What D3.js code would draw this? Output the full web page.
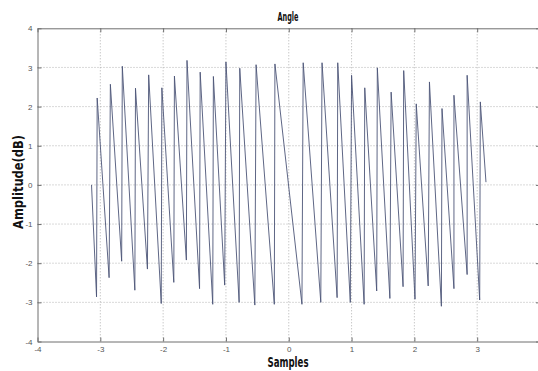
<!DOCTYPE html>
<html><head><meta charset="utf-8">
<script src="https://cdn.jsdelivr.net/npm/d3@7"></script>
<style>body{margin:0;background:#fff}svg{display:block}</style>
</head><body>
<svg id="c" width="538" height="371"></svg>
<script>
// Tick values
const xTicks = [-4,-3,-2,-1,0,1,2,3,4];
const xTickLabels = ["-4","-3","-2","-1","0","1","2","3",""];
const yTicks = [-4,-3,-2,-1,0,1,2,3,4];
const yTickLabels = ["-4","-3","-2","-1","0","1","2","3","4"];
// Series: start point, then alternating trough/peak, then end point
const startPoint = [-3.14, 0.0];
const troughX = [-3.06,-2.86,-2.66,-2.45,-2.25,-2.03,-1.83,-1.63,-1.42,-1.21,-1.02,-0.79,-0.54,-0.23,0.21,0.51,0.77,0.98,1.20,1.40,1.61,1.82,2.01,2.22,2.43,2.63,2.84,3.04];
const troughY = [-2.86,-2.37,-1.95,-2.69,-2.15,-3.03,-2.49,-1.92,-2.65,-3.05,-2.56,-3.00,-3.07,-3.05,-3.05,-3.00,-2.88,-3.00,-3.05,-2.71,-2.90,-2.60,-2.92,-2.58,-3.10,-2.65,-2.29,-2.94];
const peakX = [-3.05,-2.84,-2.65,-2.44,-2.23,-2.02,-1.82,-1.62,-1.41,-1.20,-1.00,-0.78,-0.52,-0.22,0.23,0.53,0.78,1.00,1.21,1.41,1.63,1.83,2.03,2.24,2.44,2.63,2.84,3.05];
const peakY = [2.22,2.57,3.03,2.47,2.81,2.48,2.78,3.18,2.88,2.77,3.14,2.98,3.07,3.09,3.12,3.12,3.12,2.80,2.48,2.99,2.37,2.92,2.07,2.63,1.95,2.29,2.80,2.12];
const endPoint = [3.14, 0.07];

const pts = [startPoint];
troughX.forEach((x,i)=>{ pts.push([x, troughY[i]]); pts.push([peakX[i], peakY[i]]); });
pts.push(endPoint);

const svg = d3.select("#c");
const L = 37.5, R = 540, T = 28.3, B = 341.5;
const x = d3.scaleLinear().domain([-4,4]).range([L,R]);
const y = d3.scaleLinear().domain([-4,4]).range([B,T]);

// grid
const grid = svg.append("g");
grid.selectAll(".gx").data(xTicks.slice(1,-1)).join("line")
  .attr("x1",d=>x(d)).attr("x2",d=>x(d)).attr("y1",T).attr("y2",B)
  .attr("stroke","#a0a0a0").attr("stroke-width",0.8).attr("stroke-dasharray","1,2");
grid.selectAll(".gy").data(yTicks.slice(1,-1)).join("line")
  .attr("y1",d=>y(d)).attr("y2",d=>y(d)).attr("x1",L).attr("x2",R)
  .attr("stroke","#a0a0a0").attr("stroke-width",0.8).attr("stroke-dasharray","1,2");

// axes (inward ticks)
const axB = svg.append("g").attr("transform",`translate(0,${B})`)
  .call(d3.axisBottom(x).tickValues(xTicks).tickSizeInner(-4).tickSizeOuter(0).tickPadding(5)
    .tickFormat((d,i)=>xTickLabels[i]));
const axT = svg.append("g").attr("transform",`translate(0,${T})`)
  .call(d3.axisTop(x).tickValues(xTicks).tickSizeInner(-4).tickSizeOuter(0).tickFormat(""));
const axL = svg.append("g").attr("transform",`translate(${L},0)`)
  .call(d3.axisLeft(y).tickValues(yTicks).tickSizeInner(-4).tickSizeOuter(0).tickPadding(5)
    .tickFormat((d,i)=>yTickLabels[i]));
const axR = svg.append("g").attr("transform",`translate(${R},0)`)
  .call(d3.axisRight(y).tickValues(yTicks).tickSizeInner(-4).tickSizeOuter(0).tickFormat(""));
[axB,axT,axL,axR].forEach(a=>{
  a.select(".domain").attr("stroke","#6e6e6e").attr("stroke-width",1);
  a.selectAll(".tick line").attr("stroke","#6e6e6e");
  a.selectAll("text").attr("fill","#555").attr("font-size","8px").attr("font-family","Liberation Sans, Arial, sans-serif");
});

// line
svg.append("path").datum(pts)
  .attr("d", d3.line().x(d=>x(d[0])).y(d=>y(d[1])))
  .attr("fill","none").attr("stroke","#4c5577").attr("stroke-width",0.9);

// labels
const lf = "DejaVu Sans Condensed, DejaVu Sans, sans-serif";
svg.append("text").text("Angle").attr("x",288).attr("y",21)
  .attr("text-anchor","middle").attr("font-family",lf).attr("font-weight","bold")
  .attr("font-size","12px").attr("textLength",21).attr("lengthAdjust","spacingAndGlyphs").attr("fill","#111");
svg.append("text").text("Samples").attr("x",288).attr("y",367)
  .attr("text-anchor","middle").attr("font-family",lf).attr("font-weight","bold")
  .attr("font-size","14px").attr("textLength",41).attr("lengthAdjust","spacingAndGlyphs").attr("fill","#111");
svg.append("text").text("Amplitude(dB)")
  .attr("transform","translate(23,182) rotate(-90)")
  .attr("text-anchor","middle").attr("font-family",lf).attr("font-weight","bold")
  .attr("font-size","14px").attr("textLength",94).attr("lengthAdjust","spacingAndGlyphs").attr("fill","#111");
</script>
</body></html>
